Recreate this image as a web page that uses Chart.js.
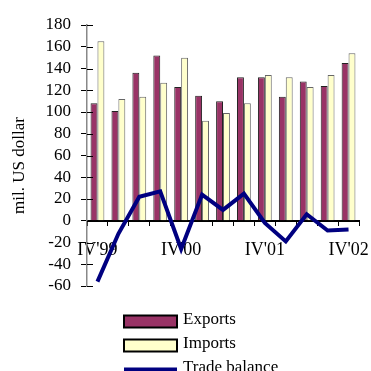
<!DOCTYPE html>
<html>
<head>
<meta charset="utf-8">
<script src="https://cdn.jsdelivr.net/npm/chart.js@4/dist/chart.umd.min.js"></script>
<style>
  html, body { margin: 0; padding: 0; background: #fff; }
  canvas { display: block; }
</style>
</head>
<body>
<canvas id="c" width="371" height="371"></canvas>
<script>
// Quarterly foreign trade, mil. US dollar
const quarters = ["IV'99", "I'00", "II'00", "III'00", "IV'00", "I'01", "II'01", "III'01", "IV'01", "I'02", "II'02", "III'02", "IV'02"];
const exportsValues = [108, 101, 136, 152, 123, 115, 110, 132, 132, 114, 128, 124, 145];
const importsValues = [165, 112, 114, 127, 150, 92, 99, 108, 134, 132, 123, 134, 154];
const tradeBalance = [-56, -12, 22, 27, -26, 24, 10, 25, -2, -19, 6, -9, -8];
const yTicks = { min: -60, max: 180, step: 20 };
const unitTitle = 'mil. US dollar';

const SERIF = "'Liberation Serif', 'Times New Roman', serif";

// Cross-style tick marks on the value axis (inner half)
const innerTicks = {
  id: 'innerTicks',
  afterDraw(chart) {
    const y = chart.scales.y;
    const ctx = chart.ctx;
    ctx.save();
    ctx.strokeStyle = '#000';
    ctx.lineWidth = 1;
    y.ticks.forEach((t, i) => {
      const py = Math.round(y.getPixelForTick(i)) + 0.5;
      ctx.beginPath();
      ctx.moveTo(y.right, py);
      ctx.lineTo(y.right + 6, py);
      ctx.stroke();
    });
    ctx.restore();
  }
};

// Rotated unit caption beside the value axis, set a little below centre
const unitCaption = {
  id: 'unitCaption',
  afterDraw(chart) {
    const ctx = chart.ctx;
    const area = chart.chartArea;
    ctx.save();
    ctx.translate(20, (area.top + area.bottom) / 2 + 10);
    ctx.rotate(-Math.PI / 2);
    ctx.font = '17px ' + SERIF;
    ctx.fillStyle = '#000';
    ctx.textAlign = 'center';
    ctx.textBaseline = 'middle';
    ctx.fillText(unitTitle, 0, 0);
    ctx.restore();
  }
};

// Stacked legend block under the plot
const legendBlock = {
  id: 'legendBlock',
  afterDraw(chart) {
    const ctx = chart.ctx;
    const left = 124, swatchW = 53, swatchH = 12, firstRow = 321.5, rowGap = 24;
    ctx.save();
    ctx.font = '17px ' + SERIF;
    ctx.textAlign = 'left';
    ctx.textBaseline = 'alphabetic';
    chart.data.datasets.forEach((ds, i) => {
      const cy = firstRow + i * rowGap;
      if (ds.type === 'line') {
        ctx.strokeStyle = ds.borderColor;
        ctx.lineWidth = 4;
        ctx.beginPath();
        ctx.moveTo(left, cy);
        ctx.lineTo(left + swatchW, cy);
        ctx.stroke();
      } else {
        ctx.fillStyle = ds.backgroundColor;
        ctx.fillRect(left, cy - swatchH / 2, swatchW, swatchH);
        ctx.strokeStyle = '#000';
        ctx.lineWidth = 2;
        ctx.strokeRect(left, cy - swatchH / 2, swatchW, swatchH);
      }
      ctx.fillStyle = '#000';
      ctx.fillText(ds.label, left + swatchW + 6, cy + 2.5);
    });
    ctx.restore();
  }
};

new Chart(document.getElementById('c'), {
  data: {
    labels: quarters,
    datasets: [
      {
        type: 'bar', label: 'Exports', data: exportsValues,
        backgroundColor: '#993366', borderColor: '#222', borderWidth: 1,
        categoryPercentage: 0.66, barPercentage: 1
      },
      {
        type: 'bar', label: 'Imports', data: importsValues,
        backgroundColor: '#FFFFCC', borderColor: '#666', borderWidth: 1,
        categoryPercentage: 0.66, barPercentage: 1
      },
      {
        type: 'line', label: 'Trade balance', data: tradeBalance,
        borderColor: '#000080', backgroundColor: '#000080', borderWidth: 4,
        pointRadius: 0, tension: 0, fill: false, order: -1
      }
    ]
  },
  options: {
    responsive: false,
    animation: false,
    devicePixelRatio: 1,
    layout: { padding: { top: 25, right: 12, bottom: 85, left: 0 } },
    plugins: { legend: { display: false }, tooltip: { enabled: false } },
    scales: {
      x: {
        position: { y: 0 },
        grid: { offset: true, drawOnChartArea: false, tickLength: 4, color: '#000', tickWidth: 1 },
        border: { color: '#000', width: 2 },
        ticks: {
          autoSkip: false, maxRotation: 0, padding: 15, color: '#000',
          font: { family: SERIF, size: 18 },
          callback: (v, i) => (i % 4 === 0 ? quarters[i] : '')
        },
        afterFit(scale) { scale.paddingLeft = 0; scale.paddingRight = 0; }
      },
      y: {
        min: yTicks.min, max: yTicks.max,
        ticks: { stepSize: yTicks.step, autoSkip: false, color: '#000', padding: 10, font: { family: SERIF, size: 17 } },
        grid: { drawOnChartArea: false, tickLength: 6, color: '#000' },
        border: { color: '#888', width: 1.5 },
        afterFit(scale) { scale.width = 87; }
      }
    }
  },
  plugins: [innerTicks, unitCaption, legendBlock]
});
</script>
</body>
</html>
